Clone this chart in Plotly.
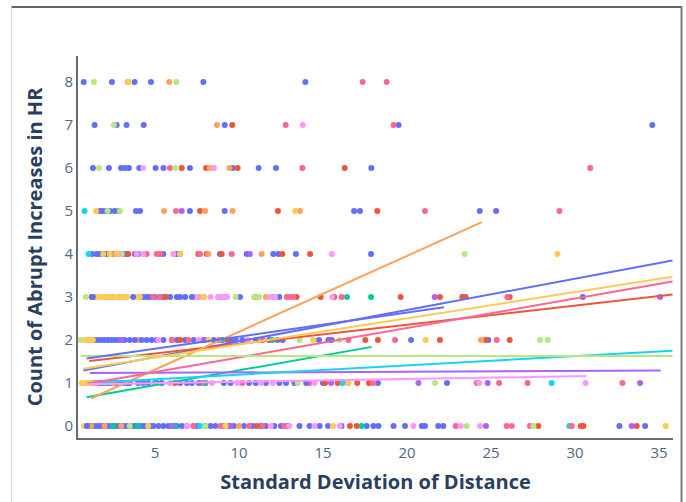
import plotly.graph_objects as go

# ---------------- data ----------------
colors = ["#636efa", "#EF553B", "#00cc96", "#ab63fa", "#FFA15A",
          "#19d3f3", "#FF6692", "#B6E880", "#FF97FF", "#FECB52", "#636efa"]

levels = [0, 1, 2, 3, 4, 5, 6, 7, 8]

# each group: list of x-values for y = 0,1,...,8
g0_rows = [
    [1.0, 1.2, 1.4, 1.6, 1.8, 2.0, 2.2, 2.4, 2.6, 2.8, 3.0, 3.2, 3.4, 3.6, 3.8, 4.0, 4.2, 4.4,
     4.7, 4.9, 5.2, 5.5, 5.8, 6.1, 6.3, 6.6, 6.9, 7.5, 8.0, 8.3, 8.6, 9.1, 9.4, 9.7, 10.3,
     10.8, 11.3, 11.6, 12.1, 12.5, 12.9, 13.6, 14.2, 14.8, 15.3, 16.1, 17.6, 18.0, 18.3,
     19.88, 20.88, 21.07, 21.86, 32.64, 34.17],
    [1.35, 1.55, 1.75, 1.95, 2.15, 2.35, 2.55, 2.75, 2.95, 3.15, 3.35, 4.0, 4.3, 4.6, 5.1,
     5.4, 6.5, 6.9, 7.2, 8.0, 9.1, 9.5, 10.6, 11.0, 11.6, 12.4, 12.8, 13.3, 15.0, 16.5,
     18.27, 22.38],
    [1.4, 1.6, 1.8, 2.0, 2.2, 2.4, 2.6, 2.8, 3.0, 3.2, 3.5, 4.5, 4.8, 5.1, 5.5, 6.0, 6.3, 6.8,
     7.3, 7.9, 8.5, 9.0, 9.5, 10.2, 11.0, 11.8, 12.3, 14.76, 15.32, 15.52, 20.24, 24.84],
    [1.23, 1.5, 2.1, 2.5, 2.9, 3.3, 4.3, 4.5, 4.7, 5.0, 5.3, 5.5, 5.9, 6.3, 6.5, 8.8, 9.1,
     10.06, 12.4, 30.46],
    [1.25, 1.53, 1.73, 1.92, 2.12, 3.11, 3.31, 3.81, 4.01, 5.49, 6.29, 6.49, 8.87, 10.46,
     12.04, 12.34, 13.39, 17.86],
    [1.73, 1.89, 2.08, 2.32, 2.6, 2.84, 3.87, 4.11, 7.08, 9.15, 24.33, 25.3],
    [1.31, 2.26, 2.98, 3.21, 3.45, 4.07, 5.04, 5.51, 7.08, 9.62, 11.17, 12.2, 17.88],
    [1.41, 2.72, 3.31, 4.33, 9.15, 19.5, 34.6],
    [0.76, 2.44, 3.79, 4.76, 7.88, 13.95],
]
g1_rows = [
    [11.05, 16.6, 17.0, 27.82, 30.34, 30.5, 33.67],
    [6.2, 15.12, 15.87, 17.04, 17.74],
    [1.1, 6.5, 9.3, 17.52, 18.27, 21.96, 24.68, 26.11],
    [5.65, 10.95, 13.43, 14.86, 15.67, 19.62, 21.96, 23.29, 23.49, 26.11],
    [3.41, 7.58, 8.08, 8.97, 12.58, 14.23],
    [7.68, 12.32, 18.23],
    [6.6, 8.04, 9.92, 16.29],
    [9.6],
    [],
]
g2_rows = [
    [1.0, 2.5, 4.0, 6.2, 17.3],
    [1.1, 2.0, 5.0, 8.0],
    [9.0, 12.0],
    [16.43, 17.86],
    [], [], [], [], [],
]
g3_rows = [
    [2.0, 6.0, 9.5, 24.7, 33.37],
    [1.2, 15.48, 20.68, 24.8, 33.87],
    [3.0, 8.0],
    [21.65, 35.06],
    [10.65],
    [6.59],
    [], [], [],
]
g4_rows = [
    [1.2, 2.0, 3.0, 10.0],
    [1.5, 2.5],
    [4.0, 24.4],
    [7.3, 7.6, 11.6],
    [2.92, 8.17, 11.35],
    [5.54, 7.99, 9.62, 13.63],
    [8.26, 9.44],
    [8.69],
    [3.38, 5.85],
]
g5_rows = [
    [7.68, 29.66],
    [1.0, 16.17, 28.61],
    [],
    [12.0],
    [1.05],
    [0.81],
    [], [], [],
]
g6_rows = [
    [7.28, 8.9, 10.6, 11.4, 12.7, 22.9, 25.93, 26.23, 27.32, 29.8],
    [1.1, 7.8, 10.2, 14.19, 17.99, 24.15, 25.48, 27.18, 32.82],
    [6.0, 7.0, 8.8, 11.4, 16.51, 19.29, 25.34],
    [4.9, 5.3, 7.9, 12.84, 13.0, 13.23, 16.11, 25.97],
    [2.52, 4.51, 5.1, 5.3, 7.68, 9.57],
    [6.25, 21.07, 29.07],
    [5.89, 13.77, 30.9],
    [12.78, 19.2],
    [17.36, 18.79],
]
g7_rows = [
    [3.5, 8.0, 23.55, 27.52],
    [13.5, 21.67],
    [0.58, 13.6, 15.97, 27.92, 28.37],
    [0.89, 9.8, 10.9, 11.2],
    [3.02, 23.43],
    [2.18, 2.92],
    [1.67, 6.21],
    [2.56],
    [1.37, 6.27],
]
g8_rows = [
    [6.9, 11.9, 13.0, 14.5, 16.0, 20.38, 23.2, 24.35],
    [1.0, 5.9, 8.4, 9.9, 11.3, 12.0, 14.5, 24.3, 30.63],
    [5.2, 7.6, 10.5],
    [2.3, 4.1, 7.5, 8.3, 8.75, 9.05, 9.3, 11.85, 12.14, 15.55],
    [2.82, 3.91, 4.3, 6.09, 15.52],
    [],
    [4.3, 8.51],
    [13.8],
    [],
]
g9_rows = [
    [0.79, 4.6, 9.2, 15.6, 35.4],
    [0.64, 0.8, 0.95, 1.1, 1.23, 16.51],
    [0.83, 1.0, 1.15, 1.3, 8.2, 14.42, 21.11],
    [1.53, 1.75, 1.95, 2.15, 2.35, 2.55, 2.75, 2.95, 3.15, 3.31, 3.9, 4.1, 7.9],
    [1.92, 2.32, 2.72, 6.49, 28.95],
    [1.49, 13.35],
    [], [],
    [3.45],
]
g10_rows = [
    [0.95, 19.2, 22.16],
    [3.5, 7.6, 14.0],
    [3.8, 4.2, 9.8, 12.6],
    [1.3, 3.7, 6.8, 7.2],
    [],
    [16.85, 17.2],
    [], [],
    [],
]

groups = [g0_rows, g1_rows, g2_rows, g3_rows, g4_rows, g5_rows,
          g6_rows, g7_rows, g8_rows, g9_rows, g10_rows]

# fitted trend lines (start / end points)
trend_x0 = [0.73, 1.09, 0.93, 1.13, 1.19, 1.0, 1.0, 0.58, 1.0, 0.73, 0.93]
trend_y0 = [1.29, 1.51, 0.67, 1.23, 0.64, 1.0, 0.98, 1.63, 0.97, 1.33, 1.57]
trend_x1 = [35.8, 35.8, 17.9, 35.1, 24.45, 35.8, 35.8, 35.8, 30.65, 35.8, 22.2]
trend_y1 = [3.85, 3.06, 1.84, 1.29, 4.74, 1.75, 3.36, 1.63, 1.16, 3.47, 2.76]

x_title = "Standard Deviation of Distance"
y_title = "Count of Abrupt Increases in HR"
x_ticks = [5, 10, 15, 20, 25, 30, 35]
y_ticks = [0, 1, 2, 3, 4, 5, 6, 7, 8]

# ---------------- figure ----------------
fig = go.Figure()

for gi, rows in enumerate(groups):
    xs, ys = [], []
    for lvl, row in zip(levels, rows):
        xs.extend(row)
        ys.extend([lvl] * len(row))
    fig.add_trace(go.Scatter(x=xs, y=ys, mode="markers",
                             marker=dict(color=colors[gi], size=6),
                             showlegend=False, hoverinfo="skip"))

for gi in range(len(groups)):
    fig.add_trace(go.Scatter(x=[trend_x0[gi], trend_x1[gi]],
                             y=[trend_y0[gi], trend_y1[gi]],
                             mode="lines", line=dict(color=colors[gi], width=2),
                             showlegend=False, hoverinfo="skip"))

W, H = 686, 502
L, R, T, B = 78, 13, 56, 64
pw, ph = W - L - R, H - T - B


def px_x(p):
    return (p - L) / pw


def px_y(p):
    return (H - B - p) / ph


frame = [
    dict(type="line", xref="paper", yref="paper", x0=px_x(11), x1=px_x(682),
         y0=px_y(7.0), y1=px_y(7.0), line=dict(color="#666666", width=2)),
    dict(type="line", xref="paper", yref="paper", x0=px_x(11.5), x1=px_x(11.5),
         y0=px_y(6.5), y1=px_y(520), line=dict(color="#dcdcdc", width=1)),
    dict(type="line", xref="paper", yref="paper", x0=px_x(681.5), x1=px_x(681.5),
         y0=px_y(6.5), y1=px_y(520), line=dict(color="#7a7a7a", width=2)),
]

fig.update_layout(
    width=W, height=H,
    margin=dict(l=L, r=R, t=T, b=B),
    paper_bgcolor="white", plot_bgcolor="white",
    font=dict(family="Open Sans, verdana, arial, sans-serif", color="#2a3f5f"),
    showlegend=False,
    xaxis=dict(range=[0.42, 35.83], tickvals=x_ticks, showgrid=False, zeroline=False,
               showline=True, linecolor="#6b6b6b", linewidth=2, ticks="",
               tickfont=dict(size=15, color="#506784"),
               title=dict(text=x_title, font=dict(size=20, color="#2a3f5f", weight="bold"),
                          standoff=14)),
    yaxis=dict(range=[-0.279, 8.605], tickvals=y_ticks, showgrid=False, zeroline=False,
               showline=True, linecolor="#6b6b6b", linewidth=2, ticks="",
               tickfont=dict(size=15, color="#506784"),
               title=dict(text=y_title, font=dict(size=20, color="#2a3f5f", weight="bold"),
                          standoff=16)),
    shapes=frame,
)

post = (
    "document.body.style.margin='0px';"
    "document.body.style.overflow='hidden';"
)

fig.write_html("out.html", config={"displayModeBar": False}, post_script=post)
